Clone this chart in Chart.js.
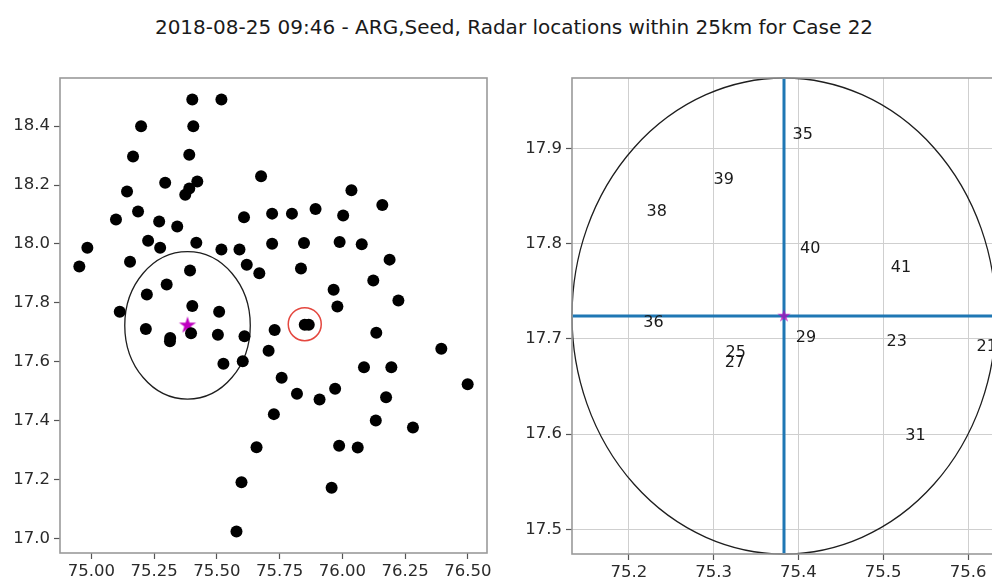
<!DOCTYPE html>
<html>
<head>
<meta charset="utf-8">
<script src="https://cdn.jsdelivr.net/npm/chart.js@4/dist/chart.umd.min.js"></script>
<style>
  html, body { margin: 0; padding: 0; overflow: hidden; background: #fff; width: 992px; height: 582px; }
  #title { position: absolute; left: 18px; top: 17px; width: 992px; text-align: center;
           font: 20px "DejaVu Sans", sans-serif; color: #1a1a1a; white-space: nowrap; line-height: 20px; }
  canvas { position: absolute; top: 0; }
</style>
</head>
<body>
<div id="title">2018-08-25 09:46 - ARG,Seed, Radar locations within 25km for Case 22</div>
<canvas id="overview" width="530" height="582" style="left:0"></canvas>
<canvas id="closeup" width="510" height="582" style="left:500px"></canvas>
<script>
// Seed (ARG) location and the 25 km search radius, in degrees
const seedLon = [75.383];
const seedLat = [17.724];
const ringRadiusDeg = 0.25;

// Target cell marked with the red ring
const targetLon = [75.850];
const targetLat = [17.728];

// Radar locations inside the 25 km radius, with their IDs
const nearIds = ['35', '39', '38', '40', '41', '36', '29', '23', '21', '25', '27', '31'];
const nearLon = [75.393, 75.300, 75.221, 75.402, 75.509, 75.217, 75.397, 75.504, 75.610, 75.314, 75.313, 75.526];
const nearLat = [17.910, 17.863, 17.829, 17.790, 17.770, 17.712, 17.697, 17.692, 17.687, 17.681, 17.670, 17.594];

// All other radar locations
const farLon = [75.402, 75.518, 75.198, 75.406, 75.166, 75.390, 75.294, 75.422, 75.390, 75.374,
                75.676, 75.142, 75.186, 75.098, 75.270, 75.342, 75.608, 75.720, 74.984, 75.226,
                75.274, 75.418, 75.518, 75.590, 75.720, 74.952, 75.154, 75.619, 75.669, 75.113,
                76.036, 76.159, 75.799, 75.893, 76.003, 75.847, 75.989, 76.077, 76.188, 75.835,
                76.123, 75.965, 75.980, 76.223, 75.730, 75.706, 75.603, 75.727, 75.658, 75.598,
                75.578, 75.850, 75.866, 76.135, 76.394, 75.758, 76.086, 76.195, 76.499, 75.819,
                75.909, 75.971, 76.174, 76.133, 76.281, 75.987, 76.061, 75.957];
const farLat = [18.490, 18.490, 18.399, 18.399, 18.297, 18.303, 18.208, 18.212, 18.188, 18.167,
                18.230, 18.178, 18.110, 18.083, 18.076, 18.059, 18.091, 18.103, 17.987, 18.011,
                17.987, 18.004, 17.981, 17.981, 18.001, 17.924, 17.940, 17.930, 17.901, 17.770,
                18.182, 18.132, 18.103, 18.119, 18.097, 18.003, 18.007, 17.999, 17.947, 17.917,
                17.876, 17.845, 17.788, 17.808, 17.708, 17.638, 17.602, 17.423, 17.311, 17.192,
                17.025, 17.726, 17.726, 17.699, 17.645, 17.546, 17.582, 17.582, 17.524, 17.492,
                17.473, 17.509, 17.480, 17.401, 17.378, 17.316, 17.310, 17.173];

// Axis ticks
const overviewLonTicks = [75.00, 75.25, 75.50, 75.75, 76.00, 76.25, 76.50];
const overviewLatTicks = [17.0, 17.2, 17.4, 17.6, 17.8, 18.0, 18.2, 18.4];
const closeupLonTicks = [75.2, 75.3, 75.4, 75.5, 75.6];
const closeupLatTicks = [17.5, 17.6, 17.7, 17.8, 17.9];

const toPoints = (xs, ys) => xs.map((x, i) => ({ x: x, y: ys[i] }));

function starImage(r, color) {
  const c = document.createElement('canvas');
  const s = Math.ceil(2 * r + 2);
  c.width = s; c.height = s;
  const g = c.getContext('2d');
  g.fillStyle = color;
  g.beginPath();
  for (let i = 0; i < 10; i++) {
    const rad = i % 2 ? r * 0.382 : r;
    const a = -Math.PI / 2 + i * Math.PI / 5;
    const px = s / 2 + rad * Math.cos(a), py = s / 2 + rad * Math.sin(a);
    if (i) g.lineTo(px, py); else g.moveTo(px, py);
  }
  g.closePath();
  g.fill();
  return c;
}

const tickFont = { family: '"DejaVu Sans", sans-serif', size: 16.5 };
const tickColor = '#2a2a2a';

function axes(lonTicks, latTicks, lonDigits, latDigits, yWidth, xHeight, gridOn) {
  const grid = { drawOnChartArea: gridOn, color: '#cfcfcf', lineWidth: 1, tickLength: 6, tickColor: '#555', tickWidth: 1.2 };
  return {
    x: {
      type: 'linear',
      afterBuildTicks: s => { s.ticks = lonTicks.map(v => ({ value: v })); },
      afterFit: s => { s.height = xHeight; },
      grid: grid,
      border: { display: false },
      ticks: { font: tickFont, color: tickColor, padding: 3, maxRotation: 0, autoSkip: false,
               callback: v => Number(v).toFixed(lonDigits) }
    },
    y: {
      type: 'linear',
      afterBuildTicks: s => { s.ticks = latTicks.map(v => ({ value: v })); },
      afterFit: s => { s.width = yWidth; },
      grid: grid,
      border: { display: false },
      ticks: { font: tickFont, color: tickColor, padding: 4, autoSkip: false,
               callback: v => Number(v).toFixed(latDigits) }
    }
  };
}

// 25 km ring around the seed location, drawn in data units
const ringPlugin = {
  id: 'ring',
  beforeDatasetsDraw(chart) {
    const { ctx, scales: { x, y } } = chart;
    const cx = x.getPixelForValue(seedLon[0]);
    const cy = y.getPixelForValue(seedLat[0]);
    const rx = Math.abs(x.getPixelForValue(seedLon[0] + ringRadiusDeg) - cx);
    const ry = Math.abs(y.getPixelForValue(seedLat[0] + ringRadiusDeg) - cy);
    ctx.save();
    ctx.beginPath();
    ctx.ellipse(cx, cy, rx, ry, 0, 0, 2 * Math.PI);
    ctx.strokeStyle = '#1e1e1e';
    ctx.lineWidth = 1.3;
    ctx.stroke();
    ctx.restore();
  }
};

// Axes frame on all four sides
const framePlugin = {
  id: 'frame',
  afterDraw(chart) {
    const { ctx, chartArea: a } = chart;
    ctx.save();
    ctx.strokeStyle = '#9a9a9a';
    ctx.lineWidth = 1.6;
    ctx.strokeRect(a.left, a.top, a.right - a.left, a.bottom - a.top);
    ctx.restore();
  }
};

// Cross through the seed location plus radar ID labels
const crossLabelPlugin = {
  id: 'crossLabels',
  beforeDatasetsDraw(chart) {
    const { ctx, chartArea: a, scales: { x, y } } = chart;
    const px = x.getPixelForValue(seedLon[0]);
    const py = y.getPixelForValue(seedLat[0]);
    ctx.save();
    ctx.strokeStyle = '#1f77b4';
    ctx.lineWidth = 3;
    ctx.beginPath();
    ctx.moveTo(a.left, py); ctx.lineTo(a.right, py);
    ctx.moveTo(px, a.top); ctx.lineTo(px, a.bottom);
    ctx.stroke();
    ctx.fillStyle = '#1a1a1a';
    ctx.font = '16px "DejaVu Sans", sans-serif';
    ctx.textAlign = 'left';
    ctx.textBaseline = 'alphabetic';
    nearIds.forEach((id, i) => {
      ctx.fillText(id, x.getPixelForValue(nearLon[i]), y.getPixelForValue(nearLat[i]));
    });
    ctx.restore();
  }
};

const common = {
  responsive: false,
  animation: false,
  events: [],
  plugins: { legend: { display: false }, tooltip: { enabled: false } }
};

const overviewScales = axes(overviewLonTicks, overviewLatTicks, 2, 1, 60, 29, false);
overviewScales.x.min = 74.875; overviewScales.x.max = 76.576;
overviewScales.y.min = 16.952; overviewScales.y.max = 18.563;

new Chart(document.getElementById('overview'), {
  type: 'scatter',
  data: {
    datasets: [
      { data: toPoints(farLon, farLat), backgroundColor: '#000', borderWidth: 0, pointRadius: 6 },
      { data: toPoints(nearLon, nearLat), backgroundColor: '#000', borderWidth: 0, pointRadius: 6 },
      { data: toPoints(targetLon, targetLat), backgroundColor: 'rgba(0,0,0,0)', borderColor: '#e4473f',
        borderWidth: 1.5, pointRadius: 16.5 },
      { data: toPoints(seedLon, seedLat), pointStyle: starImage(9, '#bf00bf'), pointRadius: 9 }
    ]
  },
  options: Object.assign({}, common, {
    layout: { padding: { top: 78, right: 43, left: 0, bottom: 0 } },
    scales: overviewScales
  }),
  plugins: [ringPlugin, framePlugin]
});

const closeupScales = axes(closeupLonTicks, closeupLatTicks, 1, 1, 72, 28, true);
closeupScales.x.min = seedLon[0] - ringRadiusDeg; closeupScales.x.max = seedLon[0] + ringRadiusDeg;
closeupScales.y.min = seedLat[0] - ringRadiusDeg; closeupScales.y.max = seedLat[0] + ringRadiusDeg;

new Chart(document.getElementById('closeup'), {
  type: 'scatter',
  data: {
    datasets: [
      { data: toPoints(seedLon, seedLat), pointStyle: starImage(7, 'rgba(191,0,191,0.65)'), pointRadius: 7 }
    ]
  },
  options: Object.assign({}, common, {
    layout: { padding: { top: 78, right: 14, left: 0, bottom: 0 } },
    scales: closeupScales
  }),
  plugins: [ringPlugin, crossLabelPlugin, framePlugin]
});
</script>
</body>
</html>
